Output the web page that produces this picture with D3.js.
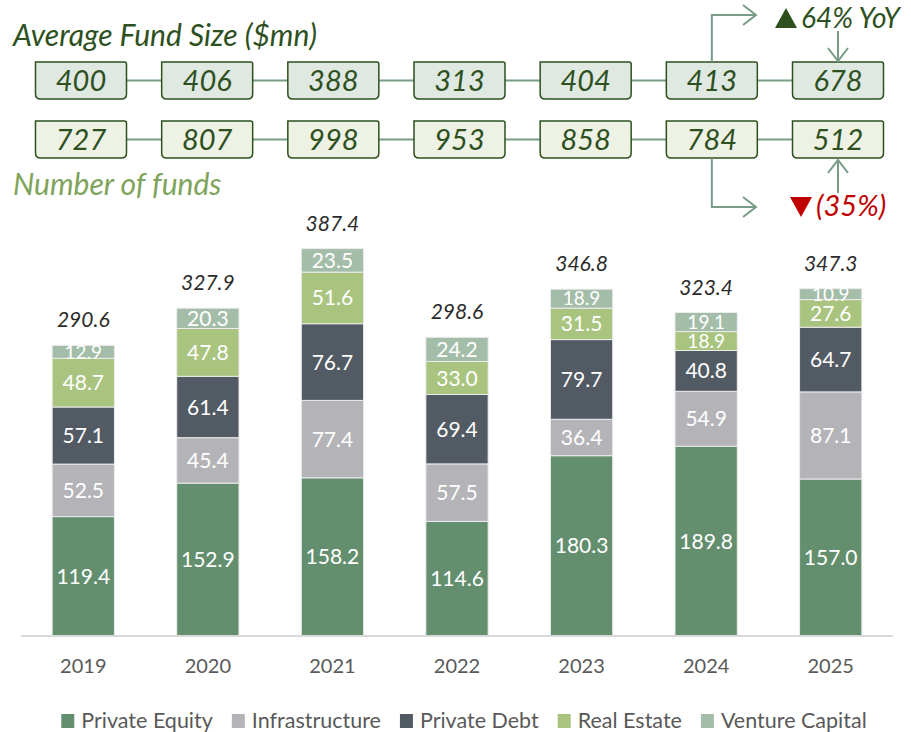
<!DOCTYPE html>
<html>
<head>
<meta charset="utf-8">
<script src="https://cdn.jsdelivr.net/npm/d3@7"></script>
<style>
  body { margin: 0; background: #fff; }
  svg { font-family: Lato, "Open Sans", sans-serif; }
</style>
</head>
<body>
<div class="chart"></div>
<script>
var years = ["2019", "2020", "2021", "2022", "2023", "2024", "2025"];
var series = ["Private Equity", "Infrastructure", "Private Debt", "Real Estate", "Venture Capital"];
var privateEquity = [119.4, 152.9, 158.2, 114.6, 180.3, 189.8, 157.0];
var infrastructure = [52.5, 45.4, 77.4, 57.5, 36.4, 54.9, 87.1];
var privateDebt = [57.1, 61.4, 76.7, 69.4, 79.7, 40.8, 64.7];
var realEstate = [48.7, 47.8, 51.6, 33.0, 31.5, 18.9, 27.6];
var ventureCapital = [12.9, 20.3, 23.5, 24.2, 18.9, 19.1, 10.9];
var totals = [290.6, 327.9, 387.4, 298.6, 346.8, 323.4, 347.3];
var avgFundSize = [400, 406, 388, 313, 404, 413, 678];
var numFunds = [727, 807, 998, 953, 858, 784, 512];
var sizeChange = "64% YoY";
var countChange = "(35%)";

var colors = ["#648f6f", "#b4b4b8", "#525a63", "#a9c47f", "#a3bda9"];

var width = 911, height = 732;
var svg = d3.select(".chart").append("svg")
  .attr("width", width).attr("height", height);

var rows = years.map(function(y, i) {
  return {
    year: y,
    "Private Equity": privateEquity[i],
    "Infrastructure": infrastructure[i],
    "Private Debt": privateDebt[i],
    "Real Estate": realEstate[i],
    "Venture Capital": ventureCapital[i]
  };
});
var stacked = d3.stack().keys(series)(rows);

var x = d3.scaleBand().domain(years).range([21, 893]).paddingInner(0.5).paddingOuter(0.25);
var y = d3.scaleLinear().domain([0, 400]).range([636, 236]);

// bars
var layer = svg.append("g").selectAll("g")
  .data(stacked)
  .join("g")
  .attr("fill", function(d, i) { return colors[i]; });

layer.selectAll("rect")
  .data(function(d) { return d; })
  .join("rect")
  .attr("x", function(d) { return x(d.data.year); })
  .attr("width", x.bandwidth())
  .attr("y", function(d) { return y(d[1]); })
  .attr("height", function(d) { return y(d[0]) - y(d[1]); })
  .attr("stroke", "#ececec")
  .attr("stroke-width", 1);

// small segments get a slightly smaller label so neighbours don't collide
layer.selectAll("text")
  .data(function(d) { return d; })
  .join("text")
  .attr("x", function(d) { return x(d.data.year) + x.bandwidth() / 2; })
  .attr("y", function(d) { return (y(d[0]) + y(d[1])) / 2; })
  .attr("dy", "0.36em")
  .attr("text-anchor", "middle")
  .attr("fill", "#fff")
  .style("font-size", function(d) { return (d[1] - d[0]) < 20 ? "19px" : "21px"; })
  .text(function(d) { return (d[1] - d[0]).toFixed(1); });

// totals
svg.append("g").selectAll("text")
  .data(totals)
  .join("text")
  .attr("x", function(d, i) { return x(years[i]) + x.bandwidth() / 2; })
  .attr("y", function(d) { return y(d) - 18; })
  .attr("text-anchor", "middle")
  .attr("fill", "#2b2b2b")
  .style("font-size", "21px")
  .style("font-style", "italic")
  .text(function(d) { return d.toFixed(1); });

// axis
var axis = svg.append("g")
  .attr("transform", "translate(0," + y(0) + ")")
  .call(d3.axisBottom(x).tickSize(0).tickPadding(23));
axis.select(".domain").attr("stroke", "#d9d9d9").attr("stroke-width", 2)
  .attr("d", "M21,0H893");
axis.selectAll("text")
  .attr("fill", "#595959")
  .style("font-size", "20px")
  .style("font-family", "Lato, sans-serif");

// legend
var legend = svg.append("g");
var lx = 0;
series.forEach(function(s, i) {
  var g = legend.append("g").attr("transform", "translate(" + lx + ",0)");
  g.append("rect").attr("x", 0).attr("y", 714).attr("width", 13).attr("height", 14)
    .attr("fill", colors[i]);
  var t = g.append("text").attr("x", 20).attr("y", 728)
    .attr("fill", "#595959").style("font-size", "21.5px").text(s);
  lx += 20 + t.node().getComputedTextLength() + 19;
});
var lw = lx - 19;
legend.attr("transform", "translate(" + (464 - lw / 2) + ",0)");

// top boxes
var bx = d3.scalePoint().domain(years).range([81, 838]);
var boxW = 91, boxH = 37;
var darkGreen = "#2d501e";
var lineGreen = "#779d86";

function boxPath(cx, top) {
  var l = cx - boxW / 2, r = cx + boxW / 2, b = top + boxH, rr = 5;
  return "M" + l + "," + top + "H" + (r - 2) + "Q" + r + "," + top + " " + r + "," + (top + 2) +
    "V" + (b - rr) + "Q" + r + "," + b + " " + (r - rr) + "," + b +
    "H" + (l + rr) + "Q" + l + "," + b + " " + l + "," + (b - rr) + "Z";
}

function boxRow(values, top, fill) {
  var g = svg.append("g");
  g.selectAll("line")
    .data(years.slice(1))
    .join("line")
    .attr("x1", function(d, i) { return bx(years[i]) + boxW / 2; })
    .attr("x2", function(d) { return bx(d) - boxW / 2; })
    .attr("y1", top + boxH / 2).attr("y2", top + boxH / 2)
    .attr("stroke", lineGreen).attr("stroke-width", 2);
  g.selectAll("path")
    .data(values)
    .join("path")
    .attr("d", function(d, i) { return boxPath(bx(years[i]), top); })
    .attr("fill", fill).attr("stroke", darkGreen).attr("stroke-width", 1.5);
  g.selectAll("text")
    .data(values)
    .join("text")
    .attr("x", function(d, i) { return bx(years[i]); })
    .attr("y", top + boxH / 2)
    .attr("dy", "0.36em")
    .attr("text-anchor", "middle")
    .attr("fill", darkGreen)
    .style("font-size", "29px")
    .style("font-style", "italic")
    .text(function(d) { return d; });
}
boxRow(avgFundSize, 62, "#dfe8e1");
boxRow(numFunds, 121, "#eef2e4");

svg.append("text").attr("x", 13).attr("y", 46)
  .attr("fill", darkGreen).style("font-size", "30px").style("font-style", "italic")
  .text("Average Fund Size ($mn)");
svg.append("text").attr("x", 13).attr("y", 195)
  .attr("fill", "#7ea35a").style("font-size", "30px").style("font-style", "italic")
  .text("Number of funds");

// change arrows
var ax = bx("2024"), tx = bx("2025");
var arrows = svg.append("g").attr("fill", "none").attr("stroke", lineGreen).attr("stroke-width", 2);
arrows.append("path").attr("d", "M" + ax + ",62V15H756");
arrows.append("path").attr("d", "M743,5L756,15L743,25");
arrows.append("path").attr("d", "M" + ax + ",158V207H756");
arrows.append("path").attr("d", "M743,197L756,207L743,217");
arrows.append("path").attr("d", "M" + tx + ",31V61");
arrows.append("path").attr("d", "M" + (tx - 10) + ",48L" + tx + ",61L" + (tx + 10) + ",48");
arrows.append("path").attr("d", "M" + tx + ",193V160");
arrows.append("path").attr("d", "M" + (tx - 10) + ",173L" + tx + ",160L" + (tx + 10) + ",173");

svg.append("path").attr("d", "M775,28L786,8L797,28Z").attr("fill", darkGreen);
svg.append("text").attr("x", 801).attr("y", 28)
  .attr("fill", darkGreen).style("font-size", "28px").style("font-style", "italic")
  .text(sizeChange);
svg.append("path").attr("d", "M790,197L812,197L801,217Z").attr("fill", "#c00000");
svg.append("text").attr("x", 816).attr("y", 216)
  .attr("fill", "#c00000").style("font-size", "29px").style("font-style", "italic")
  .text(countChange);
</script>
</body>
</html>
